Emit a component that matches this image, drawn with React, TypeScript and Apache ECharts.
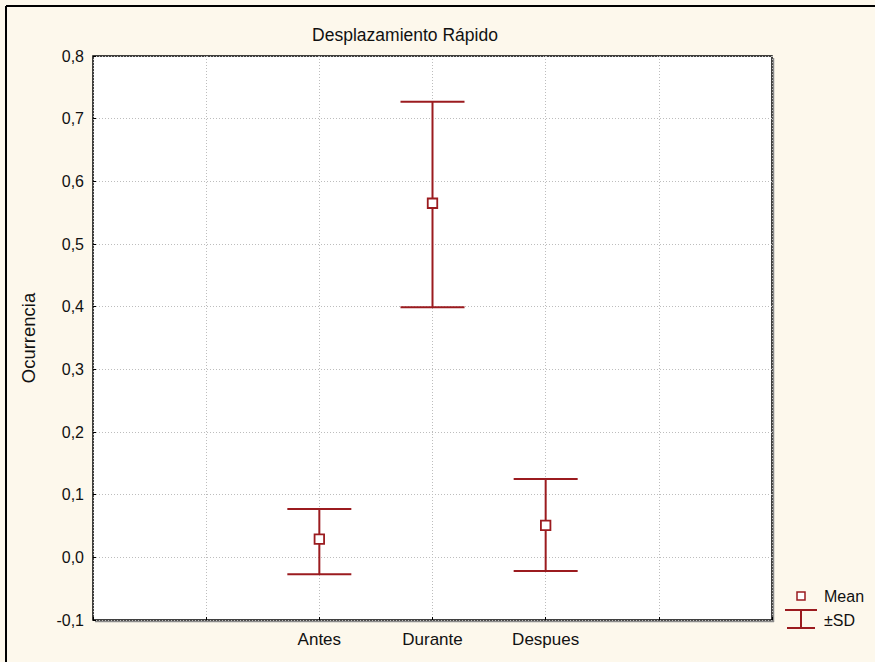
import React, { useEffect, useRef } from "react";
import * as echarts from "echarts";

const categories = ["Antes", "Durante", "Despues"];
const positions = [2, 3, 4];
const means = [0.029, 0.565, 0.051];
const upper = [0.077, 0.727, 0.125];
const lower = [-0.027, 0.399, -0.022];
const yTicks = [-0.1, 0, 0.1, 0.2, 0.3, 0.4, 0.5, 0.6, 0.7, 0.8];

const RED = "#9b1b1f";
const FONT = "Liberation Sans, Arial, sans-serif";

export default function App() {
  const ref = useRef<HTMLDivElement>(null);
  useEffect(() => {
    document.body.style.margin = "0";
    const chart = echarts.init(ref.current!, null, { renderer: "svg" });
    const errData = positions.map((p, i) => [p, lower[i], upper[i]]);
    const meanData = positions.map((p, i) => [p, means[i]]);
    chart.setOption({
      animation: false,
      backgroundColor: "#fdf8ec",
      textStyle: { fontFamily: FONT },
      grid: {
        left: 93,
        top: 56,
        right: 103,
        bottom: 42,
        show: true,
        backgroundColor: "#ffffff",
        borderColor: "#000000",
        borderWidth: 1.5,
      },
      title: {
        text: "Desplazamiento Rápido",
        left: 400,
        top: 21,
        textAlign: "center",
        textStyle: { fontFamily: FONT, fontSize: 17.5, fontWeight: "normal", color: "#111" },
      },
      xAxis: {
        type: "value",
        min: 0,
        max: 6,
        interval: 1,
        axisLine: { show: false, onZero: false },
        axisTick: { show: true, inside: true, length: 3, lineStyle: { color: "#000" } },
        splitLine: { show: true, lineStyle: { color: "#bdbdbd", type: [1, 2], width: 1 } },
        axisLabel: {
          color: "#111",
          fontFamily: FONT,
          fontSize: 17,
          margin: 11,
          formatter: (v: number) => {
            const idx = positions.indexOf(Math.round(v));
            return idx >= 0 && Math.abs(v - positions[idx]) < 1e-6 ? categories[idx] : "";
          },
        },
      },
      yAxis: {
        type: "value",
        min: yTicks[0],
        max: yTicks[yTicks.length - 1],
        interval: 0.1,
        name: "Ocurrencia",
        nameLocation: "middle",
        nameGap: 55,
        nameTextStyle: { color: "#111", fontFamily: FONT, fontSize: 18.5 },
        axisLine: { show: false, onZero: false },
        axisTick: { show: true, inside: true, length: 3, lineStyle: { color: "#000" } },
        splitLine: { show: true, lineStyle: { color: "#bdbdbd", type: [1, 2], width: 1 } },
        axisLabel: {
          color: "#111",
          fontFamily: FONT,
          fontSize: 16,
          margin: 9,
          formatter: (v: number) => v.toFixed(1).replace(".", ","),
        },
      },
      series: [
        {
          type: "custom",
          data: errData,
          z: 2,
          renderItem: (params: any, api: any) => {
            const x = api.value(0);
            const lo = api.coord([x, api.value(1)]);
            const hi = api.coord([x, api.value(2)]);
            const hw = 32;
            const style = { stroke: RED, lineWidth: 2 };
            return {
              type: "group",
              children: [
                { type: "line", shape: { x1: hi[0], y1: hi[1], x2: lo[0], y2: lo[1] }, style },
                { type: "line", shape: { x1: hi[0] - hw, y1: hi[1], x2: hi[0] + hw, y2: hi[1] }, style },
                { type: "line", shape: { x1: lo[0] - hw, y1: lo[1], x2: lo[0] + hw, y2: lo[1] }, style },
              ],
            };
          },
        },
        {
          type: "scatter",
          data: meanData,
          z: 3,
          symbol: "rect",
          symbolSize: 9.5,
          itemStyle: { color: "#ffffff", borderColor: RED, borderWidth: 1.8, opacity: 1 },
        },
      ],
      graphic: [
        { type: "line", shape: { x1: 6, y1: 6, x2: 875, y2: 6 }, style: { stroke: "#000", lineWidth: 2 } },
        { type: "line", shape: { x1: 6, y1: 6, x2: 6, y2: 662 }, style: { stroke: "#000", lineWidth: 2 } },
        { type: "line", shape: { x1: 773.5, y1: 58, x2: 773.5, y2: 622 }, style: { stroke: "#8a8a8a", lineWidth: 1.5 } },
        { type: "line", shape: { x1: 95, y1: 621.5, x2: 774, y2: 621.5 }, style: { stroke: "#8a8a8a", lineWidth: 1.5 } },
        { type: "rect", shape: { x: 797, y: 592, width: 8, height: 8 }, style: { fill: "#fff", stroke: RED, lineWidth: 1.5 } },
        { type: "text", x: 824, y: 596, style: { text: "Mean", fontFamily: FONT, fontSize: 16, fill: "#111", verticalAlign: "middle" } },
        { type: "line", shape: { x1: 785, y1: 610, x2: 817, y2: 610 }, style: { stroke: RED, lineWidth: 2 } },
        { type: "line", shape: { x1: 801, y1: 610, x2: 801, y2: 628 }, style: { stroke: RED, lineWidth: 2 } },
        { type: "line", shape: { x1: 787, y1: 628, x2: 815, y2: 628 }, style: { stroke: RED, lineWidth: 2 } },
        { type: "text", x: 824, y: 620, style: { text: "±SD", fontFamily: FONT, fontSize: 16, fill: "#111", verticalAlign: "middle" } },
      ],
    });
    return () => chart.dispose();
  }, []);
  return <div ref={ref} style={{ width: 875, height: 662 }} />;
}
